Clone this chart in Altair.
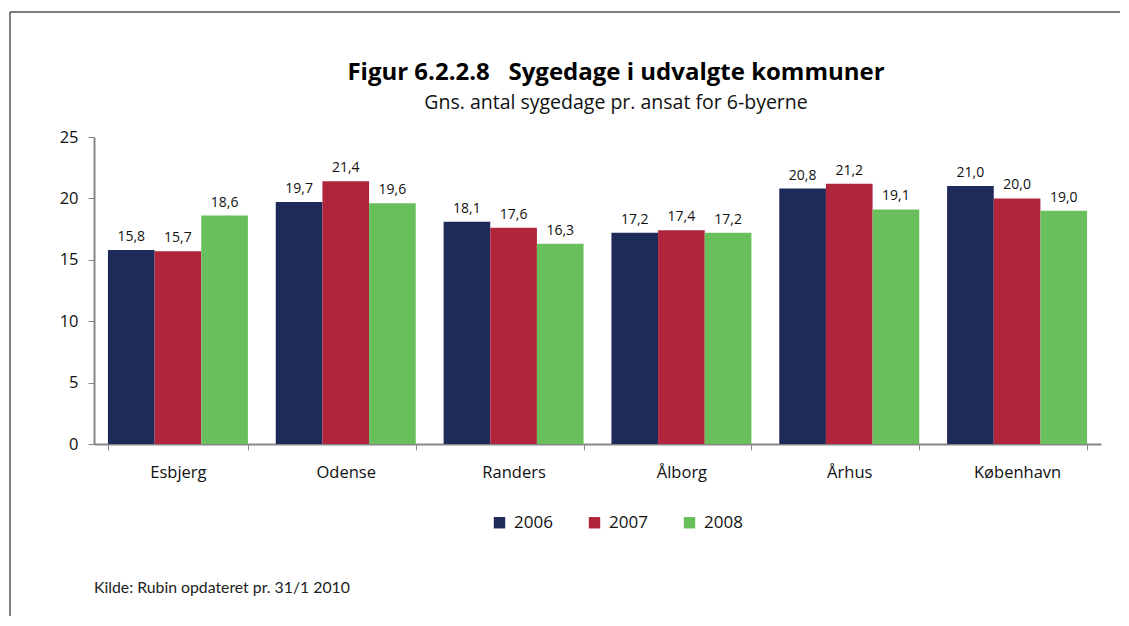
import altair as alt
import pandas as pd

cities = ["Esbjerg", "Odense", "Randers", "Ålborg", "Århus", "København"]
years = ["2006", "2007", "2008"]
v2006 = [15.8, 19.7, 18.1, 17.2, 20.8, 21.0]
v2007 = [15.7, 21.4, 17.6, 17.4, 21.2, 20.0]
v2008 = [18.6, 19.6, 16.3, 17.2, 19.1, 19.0]
colors = ["#1E2A5A", "#B0253B", "#6ABF5D"]
title_text = "Figur 6.2.2.8\u00a0\u00a0\u00a0Sygedage i udvalgte kommuner"
subtitle_text = "Gns. antal sygedage pr. ansat for 6-byerne"
source_text = "Kilde: Rubin opdateret pr. 31/1 2010"

rows = []
for yr, vals in zip(years, [v2006, v2007, v2008]):
    for c, v in zip(cities, vals):
        rows.append({"by": c, "aar": yr, "dage": v, "label": f"{v:.1f}".replace(".", ",")})
df = pd.DataFrame(rows)

FONT = "Open Sans"
W, H = 1007, 307

xenc = alt.X("by:N", sort=cities, title=None,
             scale=alt.Scale(paddingInner=0.166, paddingOuter=0.083),
             axis=alt.Axis(labelAngle=0, labelFontSize=16.5, labelColor="#111", labelFont=FONT,
                           domainColor="#868686", domainWidth=2, tickColor="#868686",
                           tickBand="extent", tickSize=6, labelPadding=14))
yenc = alt.Y("dage:Q", title=None,
             scale=alt.Scale(domain=[0, 25], nice=False),
             axis=alt.Axis(values=[0, 5, 10, 15, 20, 25], grid=False, labelFontSize=16.5,
                           labelColor="#111", labelFont=FONT, domainColor="#868686",
                           domainWidth=2, tickColor="#868686", tickSize=6, labelPadding=10))

bars = alt.Chart(df).mark_bar().encode(
    x=xenc, y=yenc,
    xOffset=alt.XOffset("aar:N", sort=years),
    color=alt.Color("aar:N", sort=years,
                    scale=alt.Scale(domain=years, range=colors),
                    legend=alt.Legend(title=None, orient="none", direction="horizontal",
                                      legendX=397, legendY=377, symbolType="square",
                                      symbolSize=130, symbolStrokeWidth=0, labelFontSize=17,
                                      labelFont=FONT, labelColor="#111", columnPadding=33,
                                      symbolOffset=0, labelOffset=6)),
)

labels = alt.Chart(df).mark_text(baseline="bottom", dy=-6, fontSize=14, font=FONT, color="#111").encode(
    x=alt.X("by:N", sort=cities),
    xOffset=alt.XOffset("aar:N", sort=years),
    y="dage:Q",
    text="label:N",
)

one = pd.DataFrame({"a": [0]})

title = alt.Chart(one).mark_text(align="center", baseline="middle", fontSize=24, fontWeight="bold",
                                 font=FONT, color="#000").encode(
    x=alt.value(522), y=alt.value(-64), text=alt.value(title_text))
subtitle = alt.Chart(one).mark_text(align="center", baseline="middle", fontSize=19.5,
                                    font=FONT, color="#111").encode(
    x=alt.value(522), y=alt.value(-34), text=alt.value(subtitle_text))

source = alt.Chart(one).mark_text(
    align="left", baseline="middle", fontSize=15.8, font="Lato", color="#222"
).encode(x=alt.value(0), y=alt.value(451), text=alt.value(source_text))

frame_top = alt.Chart(one).mark_rule(color="#555", strokeWidth=1.5, clip=False).encode(
    x=alt.value(-84), x2=alt.value(1027), y=alt.value(-125))
frame_left = alt.Chart(one).mark_rule(color="#555", strokeWidth=1.5, clip=False).encode(
    x=alt.value(-84), y=alt.value(-125), y2=alt.value(510))

chart = alt.layer(bars, labels, title, subtitle, source, frame_top, frame_left).properties(
    width=W, height=H,
    autosize=alt.AutoSizeParams(type="none"),
    padding={"left": 86, "top": 129, "right": 19, "bottom": 172},
).configure_view(stroke=None)

chart.save("out.html", embed_options={"renderer": "svg", "actions": False})
